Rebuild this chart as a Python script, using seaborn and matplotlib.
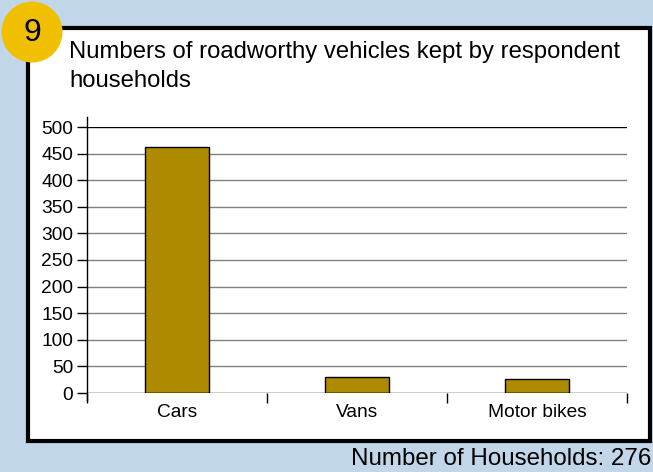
import matplotlib
matplotlib.use("Agg")
import matplotlib.pyplot as plt
import matplotlib.patches as mpatches
import seaborn as sns
import pandas as pd

categories = ["Cars", "Vans", "Motor bikes"]
values = [462, 31, 26]
yticks = [0, 50, 100, 150, 200, 250, 300, 350, 400, 450, 500]

sns.set_style("white")
plt.rcParams["font.family"] = ["Liberation Sans", "DejaVu Sans"]
plt.rcParams["text.color"] = "black"
plt.rcParams["xtick.color"] = "black"
plt.rcParams["ytick.color"] = "black"
plt.rcParams["xtick.labelcolor"] = "black"
plt.rcParams["ytick.labelcolor"] = "black"

W, H = 653, 472
fig = plt.figure(figsize=(W / 100, H / 100), dpi=100)
fig.patch.set_facecolor("#c2d6ea")

panel = mpatches.Rectangle((28 / W, 1 - 441 / H), 622 / W, 413 / H,
                           transform=fig.transFigure, facecolor="white",
                           edgecolor="black", linewidth=3, zorder=0)
fig.patches.append(panel)

circ = mpatches.Ellipse((32 / W, 1 - 32 / H), 61 / W, 61 / H,
                        transform=fig.transFigure, facecolor="#f0c000",
                        edgecolor="none", zorder=1)
fig.patches.append(circ)
fig.text(32 / W, 1 - 33 / H, "9", ha="center", va="center", fontsize=23, color="black", zorder=3)

fig.text(69 / W, 1 - 58 / H,
         "Numbers of roadworthy vehicles kept by respondent",
         ha="left", va="baseline", fontsize=17.2, color="black")
fig.text(69 / W, 1 - 87 / H,
         "households",
         ha="left", va="baseline", fontsize=17.2, color="black")

fig.text(651 / W, 1 - 465 / H, "Number of Households: 276",
         ha="right", va="baseline", fontsize=17.4, color="black")

ax = fig.add_axes([87 / W, 1 - 393 / H, 540 / W, 266 / H])
ax.set_zorder(5)
ax.set_facecolor("none")
df = pd.DataFrame({"cat": categories, "val": values})
sns.barplot(data=df, x="cat", y="val", ax=ax, color="#ae8a00", saturation=1,
            width=0.36, edgecolor="black", linewidth=1, zorder=3)
ax.set_xlim(-0.5, 2.5)
ax.set_ylim(0, 500)
ax.set_yticks(yticks)
ax.set_xlabel("")
ax.set_ylabel("")

for t in yticks:
    col = "black" if t in (0, 500) else "#808080"
    ax.axhline(t, color=col, linewidth=1, zorder=1 if t != 0 else 4)

for s in ["top", "right", "bottom"]:
    ax.spines[s].set_visible(False)
ax.spines["left"].set_color("black")
ax.spines["left"].set_linewidth(1)
ax.spines["left"].set_bounds(-13, 519)

ax.tick_params(axis="y", direction="out", length=7, width=1, color="black",
               labelsize=13.8, pad=3, left=True, labelcolor="black")
ax.tick_params(axis="x", which="major", length=0, labelsize=13.8, pad=8, labelcolor="black")
ax.set_xticks([-0.5, 0.5, 1.5, 2.5], minor=True)
ax.tick_params(axis="x", which="minor", direction="out", length=7, width=1,
               color="black", bottom=True)

fig.savefig("out.png", dpi=100, facecolor=fig.get_facecolor())
